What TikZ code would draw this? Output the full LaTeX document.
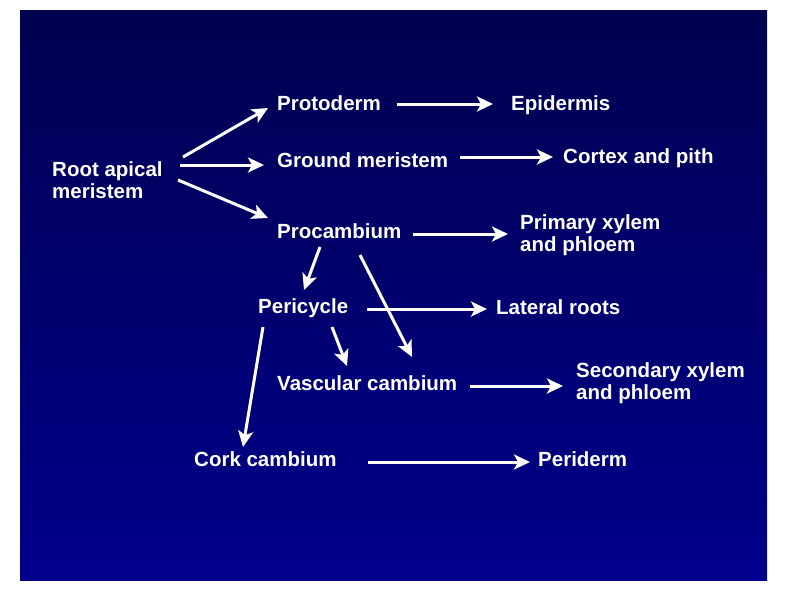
\documentclass[tikz,border=0pt]{standalone}
\usepackage{fontspec}
\setmainfont{Liberation Sans}
\usetikzlibrary{arrows.meta}
\definecolor{bgtop}{RGB}{0,0,80}
\definecolor{bgbot}{RGB}{0,0,140}
\begin{document}
\begin{tikzpicture}[x=1pt,y=-1pt,
  lbl/.style={anchor=base west,inner sep=0pt,text=white,align=left,
    font=\bfseries\fontsize{20.5}{22}\selectfont},
  arr/.style={draw=white,line width=3pt,-{Stealth[length=16pt,width=15pt,inset=4pt]}}]
\useasboundingbox (0,0) rectangle (800,600);
\shade[top color=bgtop,bottom color=bgbot] (20,10) rectangle (767,580);
\node[lbl] (root) at (52,198) {Root apical\\meristem};
\node[lbl] (proto) at (277,110) {Protoderm};
\node[lbl] (epi) at (511,110) {Epidermis};
\node[lbl] (ground) at (277,167) {Ground meristem};
\node[lbl] (cortex) at (563,163) {Cortex and pith};
\node[lbl] (proc) at (277,238) {Procambium};
\node[lbl] (prim) at (520,251) {Primary xylem\\and phloem};
\node[lbl] (peri) at (258,313) {Pericycle};
\node[lbl] (lat) at (496,314) {Lateral roots};
\node[lbl] (vasc) at (277,390) {Vascular cambium};
\node[lbl] (sec) at (576,399) {Secondary xylem\\and phloem};
\node[lbl] (cork) at (194,466) {Cork cambium};
\node[lbl] (perid) at (538,466) {Periderm};
\draw[arr] ([shift={(131,-41)}]root.base west) -- ([shift={(-9,-2)}]proto.base west);
\draw[arr] ([shift={(128,-33)}]root.base west) -- ([shift={(-13,-2)}]ground.base west);
\draw[arr] ([shift={(126,-18)}]root.base west) -- ([shift={(-9,-20)}]proc.base west);
\draw[arr] ([shift={(120,-6)}]proto.base west) -- ([shift={(-18,-6)}]epi.base west);
\draw[arr] ([shift={(183,-10)}]ground.base west) -- ([shift={(-10,-6)}]cortex.base west);
\draw[arr] ([shift={(136,-4)}]proc.base west) -- ([shift={(-12,-17)}]prim.base west);
\draw[arr] ([shift={(43,9)}]proc.base west) -- ([shift={(46,-23)}]peri.base west);
\draw[arr] ([shift={(83,17)}]proc.base west) -- ([shift={(135,-33)}]vasc.base west);
\draw[arr] ([shift={(109,-4)}]peri.base west) -- ([shift={(-9,-5)}]lat.base west);
\draw[arr] ([shift={(74,14)}]peri.base west) -- ([shift={(70,-24)}]vasc.base west);
\draw[arr] ([shift={(5,14)}]peri.base west) -- ([shift={(49,-19)}]cork.base west);
\draw[arr] ([shift={(193,-4)}]vasc.base west) -- ([shift={(-13,-13)}]sec.base west);
\draw[arr] ([shift={(174,-4)}]cork.base west) -- ([shift={(-8,-4)}]perid.base west);
\end{tikzpicture}
\end{document}
